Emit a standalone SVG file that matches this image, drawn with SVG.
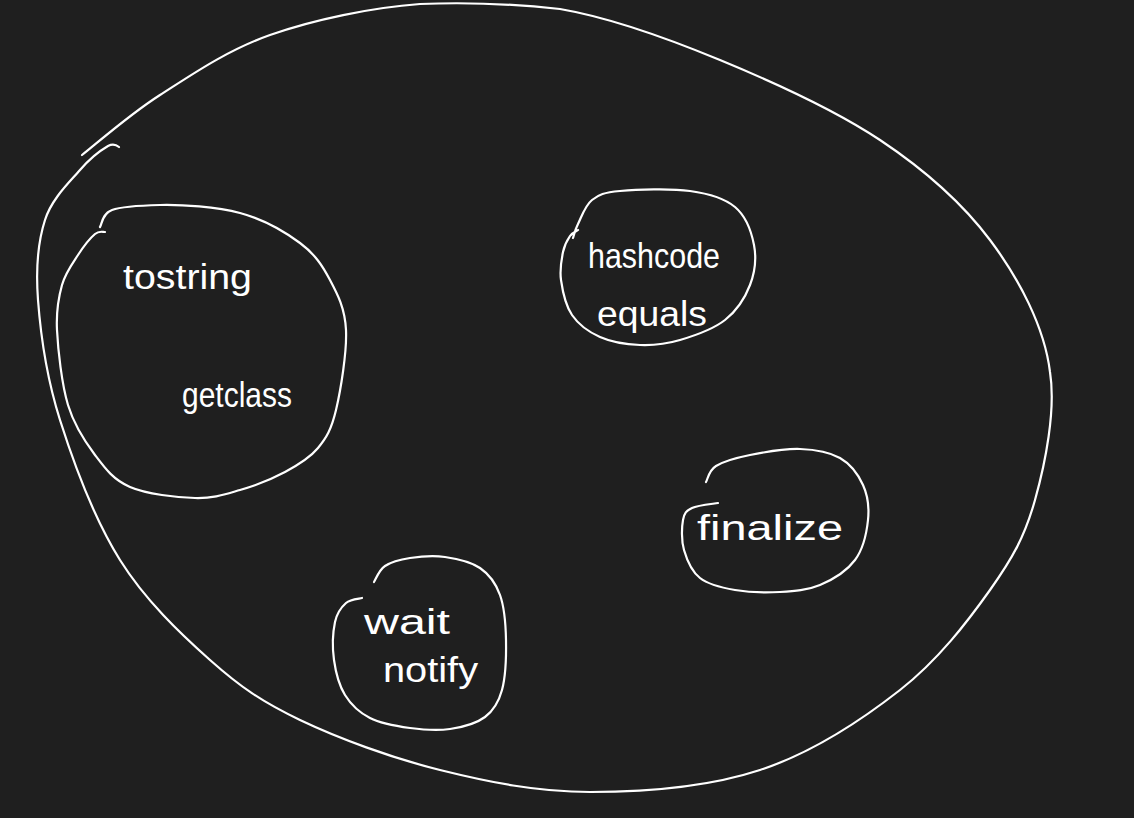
<svg xmlns="http://www.w3.org/2000/svg" width="1134" height="818" viewBox="0 0 1134 818">
<style>
.ln{fill:none;stroke:#ffffff;stroke-width:2.2;stroke-linecap:round;stroke-linejoin:round}
.tx{fill:#ffffff;font-family:"Liberation Sans","DejaVu Sans",sans-serif;font-size:35px}
</style>
<rect width="1134" height="818" fill="#1f1f1f"/>
<g id="object">
<path class="ln" d="M82,155 C95,145 128.7,115 160,95 C191.3,75 226.7,50.3 270,35 C313.3,19.7 371.7,7.5 420,4 C470,2 515,4 560,9 C610,17.5 666.7,38 720,60 C773.3,82 835,110 880,140 C925,170 961.3,201.7 990,240 C1018.7,278.3 1044.5,326.7 1050,372 C1056,410 1045.3,463.3 1035,500 C1024.7,536.7 1012.5,558.3 990,590 C967.5,621.7 938.3,660 900,690 C861.7,720 811.7,753 760,770 C708.3,787 643.3,792 590,792 C536.7,792 488.3,782 440,770 C391.7,758 338.3,738.3 300,720 C261.7,701.7 240,686.7 210,660 C180,633.3 145,600 120,560 C95,520 73.7,463.3 60,420 C46.3,376.7 40.5,333.3 38,300 C35.5,266.7 38,241.7 45,220 C52,198.3 69.5,182.3 80,170 C90.5,157.7 101.5,149.8 108,146 Q114,143 119,147"/>
</g>
<g id="tostring-getclass">
<path class="ln" d="M100,227 C102,224.2 102,213.7 112,210 C122,206.3 138.7,205.5 160,205 C181.3,204.5 216.7,206.7 240,213 C263.3,219.3 285,231.8 300,243 C315,254.2 322.3,265.5 330,280 C337.7,294.5 345,308.3 346,330 C347,351.7 340.7,390.3 336,410 C331.3,429.7 326.5,437.7 318,448 C309.5,458.3 298,465 285,472 C272,479 255,485.7 240,490 C225,494.3 213.3,498.5 195,498 C176.7,497.5 146.7,494.2 130,487 C113.3,479.8 105.3,468.7 95,455 C84.7,441.3 74.3,425.8 68,405 C61.7,384.2 58,350 57,330 C56,310 58.5,297.5 62,285 C65.5,272.5 72.5,263.5 78,255 C83.5,246.5 90.5,237.8 95,234 C99.5,230.2 103.3,232.3 105,232"/>
<text class="tx" x="123" y="289" textLength="129" lengthAdjust="spacingAndGlyphs">tostring</text>
<text class="tx" x="182" y="407" textLength="110" lengthAdjust="spacingAndGlyphs">getclass</text>
</g>
<g id="hashcode-equals">
<path class="ln" d="M573,238 C573.8,235.7 574.8,230.3 578,224 C581.2,217.7 585,205.5 592,200 C599,194.5 603.7,192.5 620,191 C636.3,189.5 670.8,188.3 690,191 C709.2,193.7 724.3,198 735,207 C745.7,216 751.5,232 754,245 C756.5,258 754.8,272.5 750,285 C745.2,297.5 736.7,310.8 725,320 C713.3,329.2 694.2,335.8 680,340 C665.8,344.2 653.3,345.5 640,345 C626.7,344.5 611.3,342 600,337 C588.7,332 578.5,324.5 572,315 C565.5,305.5 562.5,290.5 561,280 C559.5,269.5 561.5,259.3 563,252 C564.5,244.7 567.5,239.7 570,236 C572.5,232.3 576.7,231 578,230"/>
<text class="tx" x="588" y="268" textLength="132" lengthAdjust="spacingAndGlyphs">hashcode</text>
<text class="tx" x="597" y="326" textLength="110" lengthAdjust="spacingAndGlyphs">equals</text>
</g>
<g id="finalize">
<path class="ln" d="M706,482 C707.7,479.3 708.7,470.5 716,466 C723.3,461.5 736,457.8 750,455 C764,452.2 785,448.5 800,449 C815,449.5 829.5,452 840,458 C850.5,464 858.3,474.7 863,485 C867.7,495.3 869.3,507.5 868,520 C866.7,532.5 863,549.2 855,560 C847,570.8 832.5,579.7 820,585 C807.5,590.3 794.2,591.2 780,592 C765.8,592.8 748.3,592.3 735,590 C721.7,587.7 708.5,584.7 700,578 C691.5,571.3 686.8,559.7 684,550 C681.2,540.3 681.7,527 683,520 C684.3,513 686.2,510.8 692,508 C697.8,505.2 713.7,503.8 718,503"/>
<text class="tx" x="697" y="540" textLength="146" lengthAdjust="spacingAndGlyphs">finalize</text>
</g>
<g id="wait-notify">
<path class="ln" d="M374,582 C375.8,579.3 379,570 385,566 C391,562 400,559.5 410,558 C420,556.5 433.3,555.3 445,557 C456.7,558.7 470.8,561.7 480,568 C489.2,574.3 495.7,583 500,595 C504.3,607 505.7,624.2 506,640 C506.3,655.8 505.5,677.2 502,690 C498.5,702.8 493.7,710.5 485,717 C476.3,723.5 462.5,727.2 450,729 C437.5,730.8 423.3,729.8 410,728 C396.7,726.2 380.8,723.5 370,718 C359.2,712.5 351,704.7 345,695 C339,685.3 335.7,672.2 334,660 C332.3,647.8 333,631.5 335,622 C337,612.5 341.5,607 346,603 C350.5,599 359.3,598.8 362,598"/>
<text class="tx" x="364" y="634" textLength="86" lengthAdjust="spacingAndGlyphs">wait</text>
<text class="tx" x="383" y="682" textLength="95" lengthAdjust="spacingAndGlyphs">notify</text>
</g>
</svg>
